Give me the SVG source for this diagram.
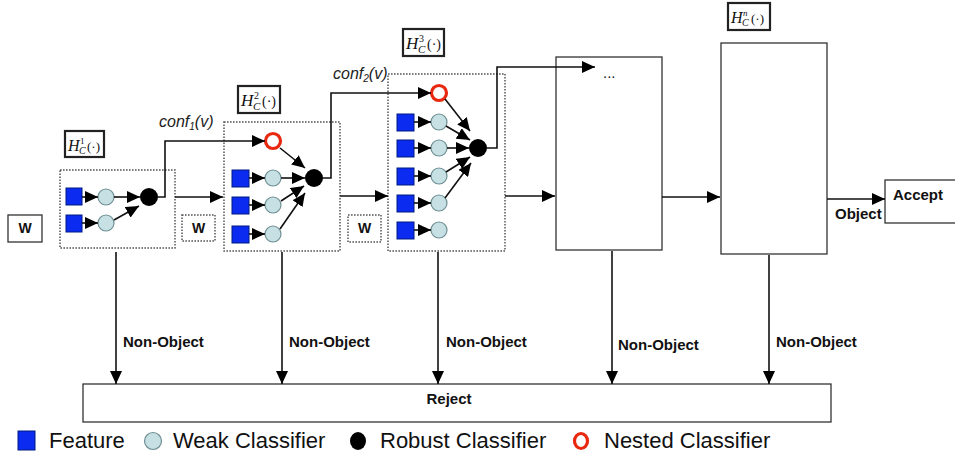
<svg xmlns="http://www.w3.org/2000/svg" width="955" height="457" viewBox="0 0 955 457">
<defs>
<style>
.ln{fill:none;stroke:#111;stroke-width:1.6}
.arr{fill:none;stroke:#111;stroke-width:1.6;marker-end:url(#ah)}
.dot{fill:#fff;stroke:#555;stroke-width:1.5;stroke-dasharray:1.6 1.4}
.box{fill:#fff;stroke:#333;stroke-width:1.3}
.lbl{fill:#fff;stroke:#222;stroke-width:2.2}
.sq{fill:#0b2cf0;stroke:#001a80;stroke-width:1}
.wk{fill:#c6e0e3;stroke:#6f8f94;stroke-width:1.2}
.rb{fill:#000}
.ns{fill:#fff;stroke:#e8280f;stroke-width:3.2}
.b{font-family:"Liberation Sans",Arial,sans-serif;font-weight:bold;fill:#111}
.it{font-family:"Liberation Sans",Arial,sans-serif;font-style:italic;fill:#222}
.h{font-family:"Liberation Serif","Times New Roman",serif;fill:#111}
.lg{font-family:"Liberation Sans",Arial,sans-serif;font-size:22px;fill:#111}
</style>
<marker id="ah" markerUnits="userSpaceOnUse" markerWidth="14" markerHeight="12" refX="13" refY="6" orient="auto"><path d="M0,0 L13,6 L0,12 z" fill="#000"/></marker>
</defs>
<rect width="955" height="457" fill="#fff"/>

<g id="w0"><rect class="box" x="8" y="215" width="34" height="27"/><text class="b" x="25" y="233" font-size="14" text-anchor="middle">W</text></g>
<g id="w1"><rect class="dot" x="182" y="215" width="33" height="26"/><text class="b" x="198.5" y="233" font-size="14" text-anchor="middle">W</text></g>
<g id="w2"><rect class="dot" x="348" y="215" width="33" height="27"/><text class="b" x="364.5" y="233" font-size="14" text-anchor="middle">W</text></g>

<g id="stage1">
<rect class="dot" x="60" y="170" width="115" height="78"/>
<rect class="sq" x="66" y="188" width="16" height="17"/>
<rect class="sq" x="66" y="215" width="16" height="17"/>
<circle class="wk" cx="106" cy="197" r="8"/>
<circle class="wk" cx="106" cy="223" r="8"/>
<circle class="rb" cx="149" cy="197" r="9"/>
<line class="arr" x1="82" y1="197" x2="98" y2="197"/>
<line class="arr" x1="82" y1="223" x2="98" y2="223"/>
<line class="arr" x1="114" y1="197" x2="140" y2="197"/>
<line class="arr" x1="114" y1="220" x2="139" y2="206"/>
</g>
<g id="label1"><rect class="lbl" x="65" y="131" width="39" height="26"/>
<text class="h" x="68" y="151" font-size="16" font-style="italic">H</text><text class="h" x="80" y="144" font-size="9">1</text><text class="h" x="79" y="154" font-size="10" font-style="italic">C</text><text class="h" x="87" y="151" font-size="13">(·)</text></g>

<g id="stage2">
<rect class="dot" x="224" y="122" width="116" height="129"/>
<circle class="ns" cx="273" cy="141" r="7.5"/>
<rect class="sq" x="232" y="170" width="17" height="17"/>
<rect class="sq" x="232" y="197" width="17" height="17"/>
<rect class="sq" x="232" y="226" width="17" height="17"/>
<circle class="wk" cx="273" cy="178" r="8"/>
<circle class="wk" cx="273" cy="205" r="8"/>
<circle class="wk" cx="273" cy="234" r="8"/>
<circle class="rb" cx="314" cy="178" r="9"/>
<line class="arr" x1="249" y1="178" x2="265" y2="178"/>
<line class="arr" x1="249" y1="205" x2="265" y2="205"/>
<line class="arr" x1="249" y1="234" x2="265" y2="234"/>
<line class="arr" x1="281" y1="178" x2="305" y2="178"/>
<line class="arr" x1="280" y1="148" x2="305" y2="168"/>
<line class="arr" x1="281" y1="201" x2="304" y2="186"/>
<line class="arr" x1="280" y1="229" x2="305" y2="193"/>
</g>
<g id="label2"><rect class="lbl" x="238" y="86" width="42" height="27"/>
<text class="h" x="241" y="106" font-size="17" font-style="italic">H</text><text class="h" x="254" y="99" font-size="10">2</text><text class="h" x="253" y="110" font-size="11" font-style="italic">C</text><text class="h" x="262" y="106" font-size="14">(·)</text></g>

<g id="stage3">
<rect class="dot" x="388" y="74" width="117" height="177"/>
<circle class="ns" cx="439" cy="93" r="7.5"/>
<rect class="sq" x="397" y="114" width="17" height="17"/>
<rect class="sq" x="397" y="140" width="17" height="17"/>
<rect class="sq" x="397" y="168" width="17" height="17"/>
<rect class="sq" x="397" y="195" width="17" height="17"/>
<rect class="sq" x="397" y="222" width="17" height="17"/>
<circle class="wk" cx="439" cy="122" r="8"/>
<circle class="wk" cx="439" cy="148" r="8"/>
<circle class="wk" cx="439" cy="176" r="8"/>
<circle class="wk" cx="439" cy="203" r="8"/>
<circle class="wk" cx="439" cy="230" r="8"/>
<circle class="rb" cx="478" cy="148" r="9"/>
<line class="arr" x1="414" y1="122" x2="431" y2="122"/>
<line class="arr" x1="414" y1="148" x2="431" y2="148"/>
<line class="arr" x1="414" y1="176" x2="431" y2="176"/>
<line class="arr" x1="414" y1="203" x2="431" y2="203"/>
<line class="arr" x1="414" y1="230" x2="431" y2="230"/>
<line class="arr" x1="445" y1="99" x2="470" y2="131"/>
<line class="arr" x1="446" y1="126" x2="470" y2="140"/>
<line class="arr" x1="447" y1="148" x2="469" y2="148"/>
<line class="arr" x1="446" y1="172" x2="470" y2="157"/>
<line class="arr" x1="445" y1="198" x2="471" y2="163"/>
</g>
<g id="label3"><rect class="lbl" x="403" y="29" width="41" height="27"/>
<text class="h" x="406" y="49" font-size="17" font-style="italic">H</text><text class="h" x="419" y="42" font-size="10">3</text><text class="h" x="418" y="53" font-size="11" font-style="italic">C</text><text class="h" x="427" y="49" font-size="14">(·)</text></g>

<g id="stage4"><rect class="box" x="556" y="57" width="106" height="193"/><text x="603" y="78" font-family="Liberation Sans,Arial,sans-serif" font-size="15" fill="#111">...</text></g>

<g id="stageN"><rect class="box" x="721" y="43" width="106" height="211"/></g>
<g id="labelN"><rect class="lbl" x="728" y="3" width="42" height="27"/>
<text class="h" x="731" y="23" font-size="16" font-style="italic">H</text><text class="h" x="743" y="16" font-size="9" font-style="italic">n</text><text class="h" x="742" y="26" font-size="10" font-style="italic">C</text><text class="h" x="751" y="23" font-size="13">(·)</text></g>

<g id="accept"><rect class="box" x="885" y="180" width="75" height="43"/><text class="b" x="893" y="200" font-size="15">Accept</text></g>
<g id="reject"><rect class="box" x="83" y="384" width="748" height="38"/><text class="b" x="449" y="404" font-size="15" text-anchor="middle">Reject</text></g>

<g id="connectors">
<path class="arr" d="M158,197 H165 V141 H265"/>
<path class="arr" d="M323,178 H331 V93 H431"/>
<path class="arr" d="M487,148 H497 V67 H595"/>
<line class="arr" x1="175" y1="197" x2="223" y2="197"/>
<line class="arr" x1="340" y1="196" x2="388" y2="196"/>
<line class="arr" x1="505" y1="196" x2="555" y2="196"/>
<line class="arr" x1="662" y1="197" x2="720" y2="197"/>
<line class="arr" x1="827" y1="199" x2="885" y2="199"/>
<line class="arr" x1="116" y1="252" x2="116" y2="384"/>
<line class="arr" x1="282" y1="252" x2="282" y2="384"/>
<line class="arr" x1="438" y1="252" x2="438" y2="384"/>
<line class="arr" x1="612" y1="251" x2="612" y2="384"/>
<line class="arr" x1="769" y1="255" x2="769" y2="384"/>
<text class="it" x="159" y="127" font-size="16">conf<tspan font-size="10" dy="3">1</tspan><tspan dy="-3">(v)</tspan></text>
<text class="it" x="333" y="79" font-size="16">conf<tspan font-size="10" dy="3">2</tspan><tspan dy="-3">(v)</tspan></text>
<text class="b" x="123" y="347" font-size="15">Non-Object</text>
<text class="b" x="289" y="347" font-size="15">Non-Object</text>
<text class="b" x="446" y="347" font-size="15">Non-Object</text>
<text class="b" x="618" y="350" font-size="15">Non-Object</text>
<text class="b" x="776" y="347" font-size="15">Non-Object</text>
<text class="b" x="835" y="219" font-size="15">Object</text>
</g>

<g id="legend">
<rect class="sq" x="18" y="431" width="17" height="19"/>
<text class="lg" x="49" y="448">Feature</text>
<ellipse class="wk" cx="153" cy="441" rx="8.5" ry="8.5"/>
<text class="lg" x="173" y="448">Weak Classifier</text>
<ellipse class="rb" cx="358" cy="441" rx="8" ry="9"/>
<text class="lg" x="380" y="448">Robust Classifier</text>
<ellipse class="ns" cx="581" cy="441" rx="6.5" ry="7.5"/>
<text class="lg" x="604" y="448">Nested Classifier</text>
</g>
</svg>
